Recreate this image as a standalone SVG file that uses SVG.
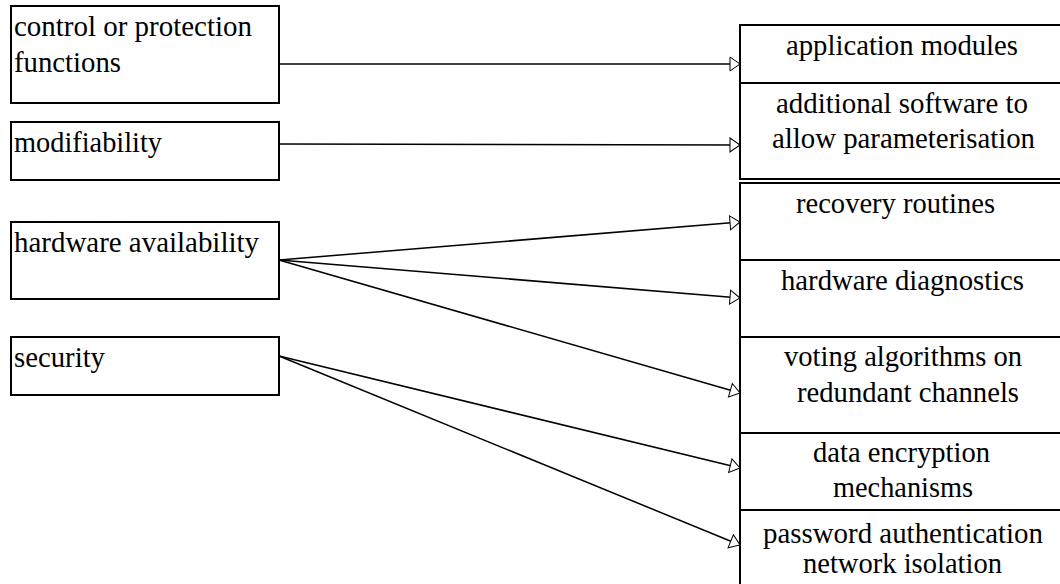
<svg xmlns="http://www.w3.org/2000/svg" width="1060" height="584" viewBox="0 0 1060 584">
<style>
.box{fill:#fff;stroke:#000;stroke-width:2}
.t{font-family:"Liberation Serif","Times New Roman",serif;font-size:29px;fill:#000}
.c{fill:none;stroke:#000;stroke-width:1.5}
</style>
<defs>
<marker id="ah" markerUnits="userSpaceOnUse" markerWidth="14" markerHeight="20" refX="11" refY="8" orient="auto">
<path d="M1,1 L11,8 L1,15 Z" fill="#fff" stroke="#000" stroke-width="1"/>
</marker>
</defs>
<rect width="1060" height="584" fill="#fff"/>
<g id="n-control"><rect class="box" x="11" y="6" width="268" height="97"/>
<text class="t" x="14" y="36" textLength="238" lengthAdjust="spacingAndGlyphs">control or protection</text>
<text class="t" x="14" y="72" textLength="107" lengthAdjust="spacingAndGlyphs">functions</text></g>
<g id="n-modifiability"><rect class="box" x="11" y="122" width="268" height="58"/>
<text class="t" x="14" y="152" textLength="148" lengthAdjust="spacingAndGlyphs">modifiability</text></g>
<g id="n-hardware"><rect class="box" x="11" y="222" width="268" height="77"/>
<text class="t" x="14" y="252" textLength="245" lengthAdjust="spacingAndGlyphs">hardware availability</text></g>
<g id="n-security"><rect class="box" x="11" y="337" width="268" height="58"/>
<text class="t" x="14" y="367" textLength="91" lengthAdjust="spacingAndGlyphs">security</text></g>
<g id="n-group1"><rect class="box" x="740" y="25" width="340" height="154"/>
<line x1="740" y1="83" x2="1080" y2="83" stroke="#000" stroke-width="2"/></g>
<g id="n-app"><text class="t" x="786" y="55" textLength="232" lengthAdjust="spacingAndGlyphs">application modules</text></g>
<g id="n-param"><text class="t" x="776" y="113" textLength="252" lengthAdjust="spacingAndGlyphs">additional software to</text>
<text class="t" x="772" y="148" textLength="263" lengthAdjust="spacingAndGlyphs">allow parameterisation</text></g>
<g id="n-group2"><rect class="box" x="740" y="183" width="340" height="420"/>
<line x1="740" y1="260" x2="1080" y2="260" stroke="#000" stroke-width="2"/>
<line x1="740" y1="337" x2="1080" y2="337" stroke="#000" stroke-width="2"/>
<line x1="740" y1="433" x2="1080" y2="433" stroke="#000" stroke-width="2"/>
<line x1="740" y1="510" x2="1080" y2="510" stroke="#000" stroke-width="2"/></g>
<g id="n-recovery"><text class="t" x="796" y="213" textLength="199" lengthAdjust="spacingAndGlyphs">recovery routines</text></g>
<g id="n-diag"><text class="t" x="781" y="290" textLength="243" lengthAdjust="spacingAndGlyphs">hardware diagnostics</text></g>
<g id="n-voting"><text class="t" x="784" y="366" textLength="238" lengthAdjust="spacingAndGlyphs">voting algorithms on</text>
<text class="t" x="797" y="402" textLength="222" lengthAdjust="spacingAndGlyphs">redundant channels</text></g>
<g id="n-encrypt"><text class="t" x="813" y="462" textLength="177" lengthAdjust="spacingAndGlyphs">data encryption</text>
<text class="t" x="833" y="497" textLength="140" lengthAdjust="spacingAndGlyphs">mechanisms</text></g>
<g id="n-password"><text class="t" x="763" y="543" textLength="280" lengthAdjust="spacingAndGlyphs">password authentication</text>
<text class="t" x="803" y="573" textLength="199" lengthAdjust="spacingAndGlyphs">network isolation</text></g>
<g id="connectors">
<line class="c" x1="279" y1="64" x2="740" y2="64" marker-end="url(#ah)"/>
<line class="c" x1="279" y1="144" x2="740" y2="145" marker-end="url(#ah)"/>
<line class="c" x1="279" y1="260" x2="740" y2="222" marker-end="url(#ah)"/>
<line class="c" x1="279" y1="260" x2="740" y2="298" marker-end="url(#ah)"/>
<line class="c" x1="279" y1="260" x2="740" y2="393" marker-end="url(#ah)"/>
<line class="c" x1="279" y1="356" x2="740" y2="468" marker-end="url(#ah)"/>
<line class="c" x1="279" y1="356" x2="740" y2="545" marker-end="url(#ah)"/>
</g>
</svg>
